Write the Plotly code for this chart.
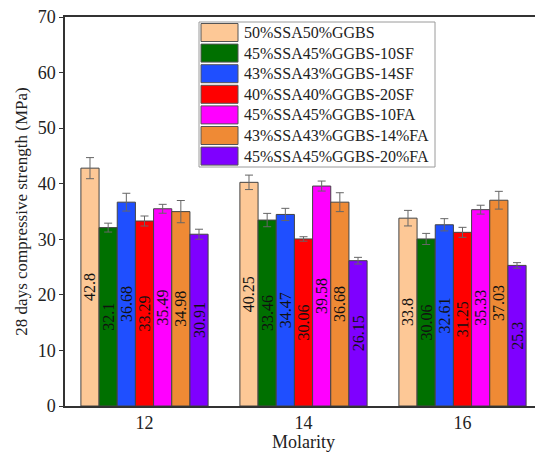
import plotly.graph_objects as go

categories = ["12", "14", "16"]
series_names = [
    "50%SSA50%GGBS",
    "45%SSA45%GGBS-10SF",
    "43%SSA43%GGBS-14SF",
    "40%SSA40%GGBS-20SF",
    "45%SSA45%GGBS-10FA",
    "43%SSA43%GGBS-14%FA",
    "45%SSA45%GGBS-20%FA",
]
values = [
    [42.8, 40.25, 33.8],
    [32.1, 33.46, 30.06],
    [36.68, 34.47, 32.61],
    [33.29, 30.06, 31.25],
    [35.49, 39.58, 35.33],
    [34.98, 36.68, 37.03],
    [30.91, 26.15, 25.3],
]
errors = [
    [1.9, 1.3, 1.4],
    [0.8, 1.2, 1.0],
    [1.6, 1.1, 1.1],
    [0.9, 0.4, 0.9],
    [0.8, 0.9, 0.8],
    [2.0, 1.7, 1.6],
    [0.9, 0.6, 0.5],
]
colors = ["#FDC896", "#007000", "#1F4FFF", "#FF0000", "#FF00FF", "#EF8A35", "#7F00FF"]

FONT = "Liberation Serif"
W, H = 535, 444
ML, MR, MT, MB = 57, 1, 9, 46
PW, PH = W - ML - MR, H - MT - MB


def px(fx):
    return (fx - ML) / PW


def py(fy):
    return (H - MB - fy) / PH


fig = go.Figure()
for name, vals, errs, col in zip(series_names, values, errors, colors):
    fig.add_trace(go.Bar(
        name=name, x=categories, y=vals,
        marker=dict(color=col, line=dict(color="#444444", width=1)),
        error_y=dict(type="data", array=errs, color="#666666", thickness=1, width=4),
        text=[str(v) for v in vals],
        textposition="inside", insidetextanchor="middle", textangle=-90,
        constraintext="none",
        textfont=dict(family=FONT, size=16, color="#111111"),
        showlegend=False,
    ))

# Legend drawn as shapes + annotations (legend box layout in pixels)
shapes = [dict(type="rect", xref="paper", yref="paper",
               x0=px(191), x1=px(427), y0=py(159), y1=py(14),
               fillcolor="white", line=dict(color="#9a9a9a", width=1), layer="above")]
annotations = []
row0, step, sh = 24.5, 20.6, 18
for i, (name, col) in enumerate(zip(series_names, colors)):
    cy = row0 + step * i
    shapes.append(dict(type="rect", xref="paper", yref="paper",
                       x0=px(193), x1=px(230), y0=py(cy + sh / 2), y1=py(cy - sh / 2),
                       fillcolor=col, line=dict(color="#555555", width=1), layer="above"))
    annotations.append(dict(xref="paper", yref="paper", x=px(234), y=py(cy),
                            xanchor="left", yanchor="middle", showarrow=False,
                            text=name, font=dict(family=FONT, size=16, color="#222222")))

fig.update_layout(
    width=W, height=H,
    margin=dict(l=ML, r=MR, t=MT, b=MB),
    barmode="group", bargap=0.2, bargroupgap=0,
    plot_bgcolor="white", paper_bgcolor="white",
    font=dict(family=FONT, size=17, color="#222222"),
    showlegend=False,
    shapes=shapes, annotations=annotations,
    xaxis=dict(
        showline=True, linecolor="#333333", linewidth=1.5, mirror=True,
        ticks="", tickfont=dict(size=18), automargin=False,
        title=dict(text="Molarity", font=dict(size=18), standoff=4),
        range=[-0.5, 2.5],
    ),
    yaxis=dict(
        range=[0, 70], dtick=10, showgrid=False, zeroline=False,
        showline=True, linecolor="#333333", linewidth=1.5, mirror=True,
        ticks="outside", ticklen=4, tickcolor="#333333", tickfont=dict(size=18),
        automargin=False, ticklabeloverflow="allow",
        title=dict(text="28 days compressive strength (MPa)", font=dict(size=17), standoff=6),
    ),
)
fig.write_html("out.html")
